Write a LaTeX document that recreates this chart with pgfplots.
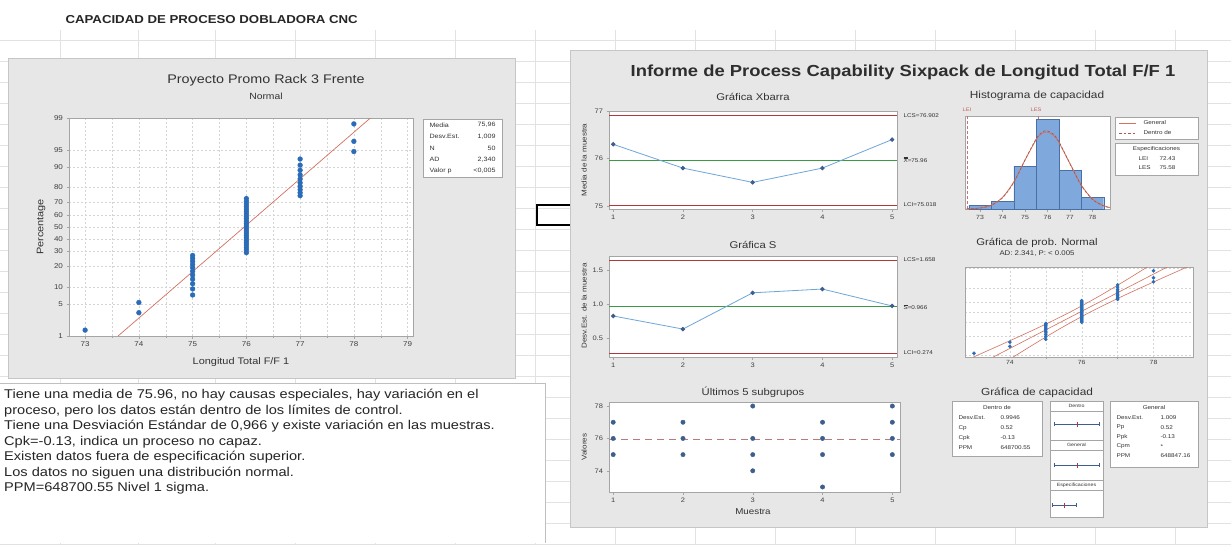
\documentclass[border=0pt]{standalone}
\usepackage{pgfplots}
\pgfplotsset{compat=1.18}
\usepackage{pgfplotstable}
\usepackage{fontspec}
\setmainfont{Liberation Sans}[FakeStretch=1.15]
\definecolor{panel}{RGB}{231,231,231}
\definecolor{mtblue}{HTML}{2B6CB8}
\definecolor{fitred}{HTML}{D4705F}
\definecolor{ctrlred}{HTML}{B0383A}
\definecolor{ctrlgreen}{HTML}{3C9A46}
\definecolor{dataline}{HTML}{6FA6D8}
\definecolor{datamark}{HTML}{3E5F8E}
\definecolor{barfill}{HTML}{7FA8DD}
\definecolor{baredge}{HTML}{4A6FA5}
\definecolor{gridc}{RGB}{212,212,212}
\definecolor{axc}{RGB}{165,165,165}
\definecolor{sheet}{RGB}{226,226,226}
\newcommand{\fs}[1]{\fontsize{#1}{#1}\selectfont}
\newcommand{\dbarX}{\vbox{\hrule height 0.3pt\kern0.5pt\hrule height 0.3pt\kern0.5pt\hbox{X}}}
\newcommand{\barS}{\vbox{\hrule height 0.3pt\kern0.6pt\hbox{S}}}

\pgfplotstableread{
x z
73 -2.2006
74 -1.8286
74 -1.6112
75 -1.4508
75 -1.3210
75 -1.2103
75 -1.1126
75 -1.0246
75 -0.9439
75 -0.8689
75 -0.7985
75 -0.7318
75 -0.6683
75 -0.6073
76 -0.5485
76 -0.4916
76 -0.4362
76 -0.3821
76 -0.3291
76 -0.2771
76 -0.2257
76 -0.1750
76 -0.1247
76 -0.0747
76 -0.0249
76 0.0249
76 0.0747
76 0.1247
76 0.1750
76 0.2257
76 0.2771
76 0.3291
76 0.3821
76 0.4362
76 0.4916
76 0.5485
76 0.6073
77 0.6683
77 0.7318
77 0.7985
77 0.8689
77 0.9439
77 1.0246
77 1.1126
77 1.2103
77 1.3210
77 1.4508
78 1.6112
78 1.8286
78 2.2006
}\probdata

\pgfplotsset{
 mt/.style={scale only axis, anchor=north west,
  axis background/.style={fill=white},
  axis line style={draw=axc, line width=0.4pt},
  tick style={draw=axc, line width=0.4pt},
  tick align=outside, tick pos=left,
  major tick length=2.5pt, minor tick length=1.5pt,
  ticklabel style={font=\fs{6.5}, text=black!75},
  /pgf/number format/assume math mode=true},
 hl/.style={line width=0.6pt, forget plot},
}

\begin{document}
\begin{tikzpicture}
% ---------- background sheet ----------
\begin{scope}[x=1pt,y=-1pt]
\fill[white] (0,0) rectangle (1231,544);
\foreach \c in {60,138,215,295,375,455,535,615,695,775,855,935,1015,1095,1175}
  \draw[sheet, line width=0.4pt] (\c,30) -- (\c,544);
\foreach \r in {40,61,82,103,124,145,166,187,208,229,250,271,292,313,334,355,376,397,418,439,460,481,502,523,544}
  \draw[sheet, line width=0.4pt] (0,\r) -- (1231,\r);
\node[anchor=west, font=\bfseries\fs{11.5}, text=black!85] at (62,20) {CAPACIDAD DE PROCESO DOBLADORA CNC};
% bracket shape
\draw[line width=2.6pt, black] (572,205) -- (537,205) -- (537,225) -- (572,225);
% left panel
\fill[panel] (8,58) rectangle (515,378);
\draw[gray!45, line width=0.4pt] (8,58) rectangle (515,378);
% sixpack panel
\fill[panel] (570,50) rectangle (1207,527);
\draw[gray!45, line width=0.4pt] (570,50) rectangle (1207,527);
% text box
\fill[white] (0,383) rectangle (545,543);
\draw[gray!50, line width=0.5pt] (0,383) -- (545,383) -- (545,543);
\end{scope}

% ---------- left probability plot ----------
\begin{axis}[mt, at={(69pt,-118pt)}, width=344pt, height=218pt,
  xmin=72.7, xmax=79.1, ymin=-2.3263, ymax=2.3263,
  xtick={73,74,75,76,77,78,79}, minor x tick num=1,
  ytick={-2.3263,-1.6449,-1.2816,-0.8416,-0.5244,-0.2533,0,0.2533,0.5244,0.8416,1.2816,1.6449,2.3263},
  yticklabels={1,5,10,20,30,40,50,60,70,80,90,95,99},
  grid=both,
  major grid style={gridc, dash pattern=on 2pt off 2pt, line width=0.35pt},
  minor grid style={gridc, dash pattern=on 2pt off 2pt, line width=0.35pt},
  ticklabel style={font=\fs{7}}]
\addplot[fitred, line width=0.7pt] coordinates {(73.613,-2.3263) (78.307,2.3263)};
\addplot[only marks, mark=*, mark size=2.4pt, mtblue] table[x=x,y=z]{\probdata};
\end{axis}

% ---------- Xbar chart ----------
\begin{axis}[mt, at={(609pt,-111pt)}, width=288pt, height=98pt,
  xmin=0.94, xmax=5.07, ymin=74.94, ymax=77.0,
  xtick={1,2,3,4,5}, ytick={75,76,77}]
\addplot[hl, ctrlred] coordinates {(0.94,76.902)(5.07,76.902)};
\addplot[hl, ctrlred] coordinates {(0.94,75.018)(5.07,75.018)};
\addplot[hl, ctrlgreen] coordinates {(0.94,75.96)(5.07,75.96)};
\addplot[dataline, line width=0.8pt, mark=*, mark size=1.8pt, mark options={fill=datamark, draw=datamark}]
  coordinates {(1,76.3)(2,75.8)(3,75.5)(4,75.8)(5,76.4)};
\end{axis}

% ---------- S chart ----------
\begin{axis}[mt, at={(609pt,-256pt)}, width=288pt, height=101pt,
  xmin=0.94, xmax=5.07, ymin=0.214, ymax=1.718,
  xtick={1,2,3,4,5}, ytick={0.5,1.0,1.5}, yticklabels={0.5,1.0,1.5}]
\addplot[hl, ctrlred] coordinates {(0.94,1.658)(5.07,1.658)};
\addplot[hl, ctrlred] coordinates {(0.94,0.274)(5.07,0.274)};
\addplot[hl, ctrlgreen] coordinates {(0.94,0.966)(5.07,0.966)};
\addplot[dataline, line width=0.8pt, mark=*, mark size=1.8pt, mark options={fill=datamark, draw=datamark}]
  coordinates {(1,0.825)(2,0.63)(3,1.17)(4,1.226)(5,0.974)};
\end{axis}

% ---------- Last 5 subgroups ----------
\begin{axis}[mt, at={(609pt,-402pt)}, width=291pt, height=90pt,
  xmin=0.94, xmax=5.11, ymin=72.69, ymax=78.25,
  xtick={1,2,3,4,5}, ytick={74,76,78}]
\addplot[hl, gray!70!red!80, dash pattern=on 7pt off 5pt] coordinates {(0.94,75.96)(5.11,75.96)};
\addplot[only marks, mark=*, mark size=2.2pt, mark options={fill=datamark, draw=datamark}] coordinates {
 (1,77)(1,76)(1,75)
 (2,77)(2,76)(2,75)
 (3,78)(3,76)(3,75)(3,74)
 (4,77)(4,76)(4,75)(4,73)
 (5,78)(5,77)(5,76)(5,75)};
\end{axis}

% ---------- Capability histogram ----------
\begin{axis}[mt, at={(965pt,-116pt)}, width=145pt, height=93pt,
  xmin=72.33, xmax=78.78, ymin=0, ymax=23.85,
  xtick={73,74,75,76,77,78}, ytick=\empty, ticklabel style={font=\fs{6}}]
\addplot[hl, ctrlred!70, dash pattern=on 3pt off 2pt] coordinates {(72.43,0)(72.43,23.85)};
\addplot[hl, ctrlred!70, dash pattern=on 3pt off 2pt] coordinates {(75.58,0)(75.58,23.85)};
\addplot[ybar interval, fill=barfill, draw=baredge, line width=0.4pt]
  coordinates {(72.5,1)(73.5,2)(74.5,11)(75.5,23)(76.5,10)(77.5,3)(78.5,3)};
\addplot[fitred, line width=0.8pt, smooth] coordinates {
 (72.4,0.039)(73,0.267)(73.5,1.012)(74,2.997)(74.5,6.94)(75,12.57)(75.5,17.82)(75.75,19.35)(75.96,19.77)
 (76.25,18.97)(76.5,17.13)(77,11.62)(77.5,6.17)(78,2.56)(78.5,0.83)(78.8,0.376)};
\addplot[fitred!80!black, line width=0.7pt, smooth, dash pattern=on 2.5pt off 2pt] coordinates {
 (72.4,0.033)(73,0.236)(73.5,0.934)(74,2.865)(74.5,6.82)(75,12.59)(75.5,18.05)(75.75,19.65)(75.96,20.09)
 (76.25,19.25)(76.5,17.33)(77,11.61)(77.5,6.04)(78,2.435)(78.5,0.762)(78.8,0.336)};
\end{axis}

% ---------- Normal probability plot (sixpack) ----------
\begin{axis}[mt, at={(965pt,-267pt)}, width=228pt, height=90pt,
  xmin=72.75, xmax=79.1, ymin=-2.4, ymax=2.4,
  xtick={74,76,78}, ytick={-2.3263,-1.2816,-0.5244,0,0.5244,1.2816,2.3263}, yticklabels={},
  major tick length=0pt, ymajorgrids, xmajorgrids, minor x tick num=1, xminorgrids,
  major grid style={gridc, dash pattern=on 2pt off 2pt, line width=0.3pt},
  minor grid style={gridc, dash pattern=on 2pt off 2pt, line width=0.3pt},
  ticklabel style={font=\fs{6}}]
\addplot[fitred, line width=0.6pt] coordinates {(73.538,-2.4)(78.382,2.4)};
\addplot[fitred, line width=0.6pt, smooth] coordinates {(74.093,-2.4)(74.771,-1.6)(75.475,-0.8)(76.240,0)(77.089,0.8)(77.999,1.6)(78.937,2.4)};
\addplot[fitred, line width=0.6pt, smooth] coordinates {(72.983,-2.4)(73.921,-1.6)(74.831,-0.8)(75.680,0)(76.445,0.8)(77.149,1.6)(77.827,2.4)};
\addplot[only marks, mark=*, mark size=1.6pt, mtblue] table[x=x,y=z]{\probdata};
\end{axis}

% ---------- overlay texts ----------
\begin{scope}[x=1pt,y=-1pt]
% left plot texts
\node[font=\fs{12.5}, text=black!80] at (266,80) {Proyecto Promo Rack 3 Frente};
\node[font=\fs{9}, text=black!80] at (266,96) {Normal};
\node[font=\fs{9.5}, text=black!80] at (241,362) {Longitud Total F/F 1};
\node[font=\fs{9.5}, text=black!80, rotate=90] at (41,227) {Percentage};
\draw[axc, fill=white, line width=0.4pt] (423,119) rectangle (502,177);
\foreach \y/\a/\b in {125/Media/{75,96}, 136.5/Desv.Est./{1,009}, 148/N/50, 159.5/AD/{2,340}, 171/Valor p/{<0,005}} {
  \node[anchor=west, font=\fs{6.2}, text=black!80] at (426,\y) {\a};
  \node[anchor=east, font=\fs{6.2}, text=black!80] at (499,\y) {\b};
}
% sixpack title
\node[font=\bfseries\fs{16}, text=black!82] at (903,72) {Informe de Process Capability Sixpack de Longitud Total F/F 1};
\node[font=\fs{9.8}, text=black!80] at (753,97) {Gráfica Xbarra};
\node[font=\fs{9.8}, text=black!80] at (753,245) {Gráfica S};
\node[font=\fs{9.8}, text=black!80] at (753,392) {Últimos 5 subgrupos};
\node[font=\fs{10.3}, text=black!80] at (1037,96) {Histograma de capacidad};
\node[font=\fs{9.8}, text=black!80] at (1037,243) {Gráfica de prob. Normal};
\node[font=\fs{6.8}, text=black!80] at (1037,254) {AD: 2.341, P: < 0.005};
\node[font=\fs{10.3}, text=black!80] at (1037,393) {Gráfica de capacidad};
% y labels
\node[font=\fs{7}, text=black!80, rotate=90] at (584,160) {Media de la muestra};
\node[font=\fs{7}, text=black!80, rotate=90] at (584,306) {Desv.Est. de la muestra};
\node[font=\fs{7}, text=black!80, rotate=90] at (584,447) {Valores};
\node[font=\fs{8.5}, text=black!80] at (753,512) {Muestra};
% control chart labels
\node[anchor=west, font=\fs{5.5}, text=black!80] at (900,116) {LCS=76.902};
\node[anchor=west, font=\fs{5.5}, text=black!80] at (900,160) {\dbarX=75.96};
\node[anchor=west, font=\fs{5.5}, text=black!80] at (900,205) {LCI=75.018};
\node[anchor=west, font=\fs{5.5}, text=black!80] at (900,260) {LCS=1.658};
\node[anchor=west, font=\fs{5.5}, text=black!80] at (900,307) {\barS=0.966};
\node[anchor=west, font=\fs{5.5}, text=black!80] at (900,353) {LCI=0.274};
% histogram spec labels and legend
\node[font=\fs{5}, text=ctrlred!80] at (967,110) {LEI};
\node[font=\fs{5}, text=ctrlred!80] at (1036,110) {LES};
\draw[axc, fill=white, line width=0.4pt] (1115,117) rectangle (1198,139);
\draw[fitred, line width=0.8pt] (1119,123) -- (1136,123);
\draw[fitred!80!black, line width=0.7pt, dash pattern=on 2.5pt off 2pt] (1119,133) -- (1136,133);
\node[anchor=west, font=\fs{5.5}, text=black!80] at (1140,123) {General};
\node[anchor=west, font=\fs{5.5}, text=black!80] at (1140,133) {Dentro de};
\draw[axc, fill=white, line width=0.4pt] (1115,143) rectangle (1198,175);
\node[font=\fs{5.5}, text=black!80] at (1156.5,149.5) {Especificaciones};
\node[anchor=west, font=\fs{5.5}, text=black!80] at (1135,159) {LEI};
\node[anchor=west, font=\fs{5.5}, text=black!80] at (1156,159) {72.43};
\node[anchor=west, font=\fs{5.5}, text=black!80] at (1135,168) {LES};
\node[anchor=west, font=\fs{5.5}, text=black!80] at (1156,168) {75.58};
% capability plot
\draw[axc, fill=white, line width=0.4pt] (952,401) rectangle (1042,456);
\node[font=\fs{5.5}, text=black!80] at (997,407.5) {Dentro de};
\foreach \y/\a/\b in {418/Desv.Est./0.9946, 428/Cp/0.52, 438/Cpk/-0.13, 448/PPM/648700.55} {
  \node[anchor=west, font=\fs{5.5}, text=black!80] at (955,\y) {\a};
  \node[anchor=west, font=\fs{5.5}, text=black!80] at (997,\y) {\b};
}
\draw[axc, fill=white, line width=0.4pt] (1110,401) rectangle (1198,467);
\node[font=\fs{5.5}, text=black!80] at (1154,407.5) {General};
\foreach \y/\a/\b in {418/Desv.Est./1.009, 427.5/Pp/0.52, 437/Ppk/-0.13, 446.5/Cpm/*, 456/PPM/648847.16} {
  \node[anchor=west, font=\fs{5.5}, text=black!80] at (1113,\y) {\a};
  \node[anchor=west, font=\fs{5.5}, text=black!80] at (1157,\y) {\b};
}
\draw[axc, fill=white, line width=0.4pt] (1050,401) rectangle (1103,517);
\foreach \y in {411,440,450,480,490} \draw[axc, line width=0.4pt] (1050,\y) -- (1103,\y);
\node[font=\fs{4.6}, text=black!80] at (1076.5,406) {Dentro};
\node[font=\fs{4.6}, text=black!80] at (1076.5,445) {General};
\node[font=\fs{4.6}, text=black!80] at (1076.5,485) {Especificaciones};
\foreach \y in {424,465} {
  \draw[datamark, line width=0.5pt] (1054,\y) -- (1099,\y);
  \draw[datamark, line width=0.5pt] (1054,\y-2) -- (1054,\y+2);
  \draw[datamark, line width=0.5pt] (1099,\y-2) -- (1099,\y+2);
  \draw[ctrlred, line width=0.6pt] (1077,\y-2.5) -- (1077,\y+2.5);
}
\draw[datamark, line width=0.5pt] (1052,505) -- (1076,505);
\draw[datamark, line width=0.5pt] (1052,503) -- (1052,507);
\draw[datamark, line width=0.5pt] (1076,503) -- (1076,507);
\draw[ctrlred, line width=0.6pt] (1064,502.5) -- (1064,507.5);
% bottom-left text
\foreach \y/\t in {
 395.5/{Tiene una media de 75.96, no hay causas especiales, hay variación en el},
 411/{proceso, pero los datos están dentro de los límites de control.},
 426.5/{Tiene una Desviación Estándar de 0,966 y existe variación en las muestras.},
 442/{Cpk=-0.13, indica un proceso no capaz.},
 457.5/{Existen datos fuera de especificación superior.},
 473/{Los datos no siguen una distribución normal.},
 488.5/{PPM=648700.55 Nivel  1 sigma.}} {
  \node[anchor=west, font=\fs{12.7}, text=black!85, inner sep=0pt] at (4,\y) {\t};
}
\end{scope}
\pgfresetboundingbox
\path[use as bounding box] (0,0) rectangle (1231pt,-544pt);
\end{tikzpicture}
\end{document}
